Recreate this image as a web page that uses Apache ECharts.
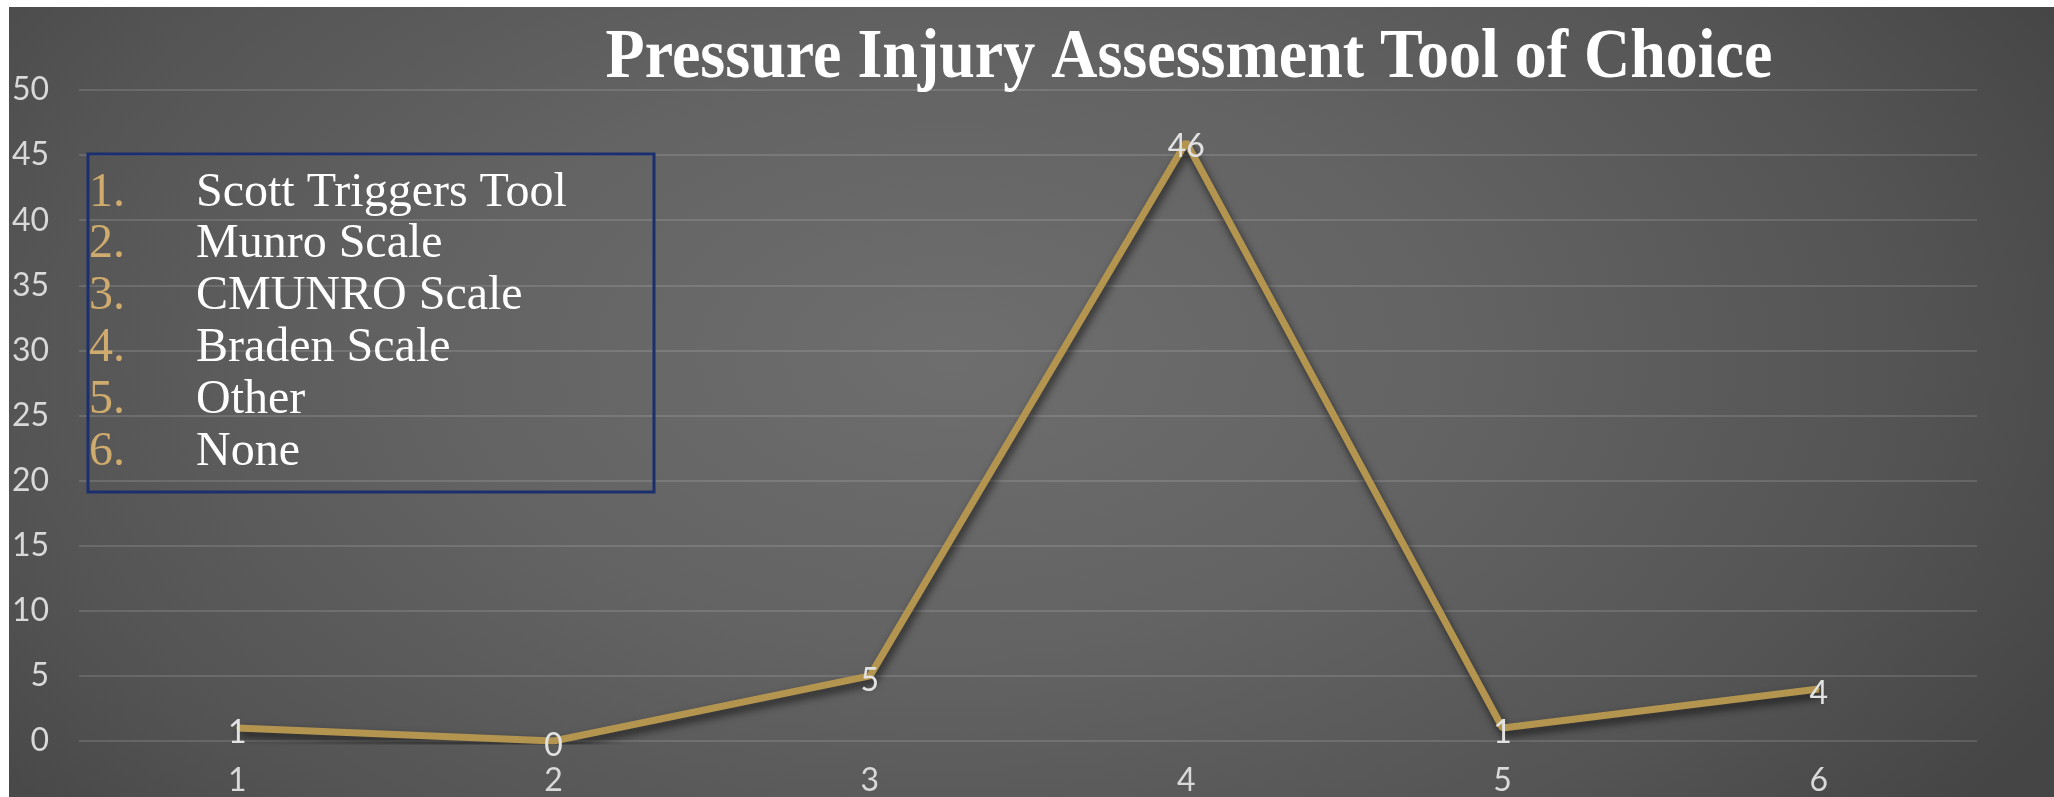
<!DOCTYPE html>
<html>
<head>
<meta charset="utf-8">
<script src="https://cdn.jsdelivr.net/npm/echarts@6/dist/echarts.min.js"></script>
<style>
  html, body { margin: 0; padding: 0; background: #ffffff; width: 2054px; height: 797px; overflow: hidden; }
  #chart {
    position: absolute; left: 9px; top: 7px; width: 2045px; height: 790px;
    background: radial-gradient(ellipse 62% 95% at 46% 44%, #6e6e6e 0%, #636363 40%, #545454 75%, #454545 100%);
  }
</style>
</head>
<body>
<div id="chart"></div>
<script>
// Survey responses: which pressure injury assessment tool is preferred
const chartTitle = 'Pressure Injury Assessment Tool of Choice';
const categories = ['1', '2', '3', '4', '5', '6'];
const responses = [1, 0, 5, 46, 1, 4];
const toolNames = ['Scott Triggers Tool', 'Munro Scale', 'CMUNRO Scale', 'Braden Scale', 'Other', 'None'];
const yTicks = { min: 0, max: 50, interval: 5 };

const chart = echarts.init(document.getElementById('chart'), null, { renderer: 'canvas' });

const sansFont = 'Lato, "DejaVu Sans", sans-serif';
const serifFont = '"Liberation Serif", "Times New Roman", serif';

// Title drawn as a graphic so it can be stretched a little vertically
const graphics = [{
  type: 'text',
  x: 1180, y: 52,
  scaleY: 1.08,
  z: 12,
  style: {
    text: chartTitle, fill: '#ffffff',
    font: 'bold 64px ' + serifFont,
    align: 'center', verticalAlign: 'middle'
  }
}];

// Numbered key listing what each category stands for
const keyLeft = 79, keyTop = 147, keyWidth = 566, keyHeight = 338;
const keyFirstRow = 186, keyRowGap = 51.8;
graphics.push({
  type: 'rect',
  x: keyLeft, y: keyTop,
  shape: { width: keyWidth, height: keyHeight },
  style: { fill: 'none', stroke: '#1b2f6e', lineWidth: 3 },
  z: 10
});
toolNames.forEach((name, i) => {
  const y = keyFirstRow + i * keyRowGap;
  graphics.push({
    type: 'text', x: keyLeft + 1, y: y, z: 11,
    style: { text: (i + 1) + '.', fill: '#cfab6e', font: '48px ' + serifFont, verticalAlign: 'middle', align: 'left' }
  });
  graphics.push({
    type: 'text', x: keyLeft + 108, y: y, z: 11,
    style: { text: name, fill: '#ffffff', font: '48px ' + serifFont, verticalAlign: 'middle', align: 'left' }
  });
});

chart.setOption({
  backgroundColor: 'transparent',
  animation: false,
  grid: { left: 70, right: 77, top: 83, bottom: 56, containLabel: false },
  xAxis: {
    type: 'category',
    data: categories,
    boundaryGap: true,
    axisLine: { show: false },
    axisTick: { show: false },
    axisLabel: { color: '#d9d9d9', fontFamily: sansFont, fontSize: 32, margin: 24 }
  },
  yAxis: {
    type: 'value',
    min: yTicks.min, max: yTicks.max, interval: yTicks.interval,
    axisLine: { show: false },
    axisTick: { show: false },
    axisLabel: { color: '#d9d9d9', fontFamily: sansFont, fontSize: 32, margin: 30 },
    splitLine: { lineStyle: { color: 'rgba(255,255,255,0.17)', width: 1.5 } }
  },
  graphic: graphics,
  series: [{
    type: 'line',
    data: responses,
    symbol: 'circle',
    symbolSize: 2,
    showSymbol: true,
    itemStyle: { color: '#b4954f' },
    lineStyle: {
      color: '#b4954f', width: 7,
      shadowColor: 'rgba(0,0,0,0.65)', shadowBlur: 9, shadowOffsetX: 2, shadowOffsetY: 5
    },
    label: {
      show: true,
      position: 'inside',
      offset: [0, 5],
      color: '#e2e2e2',
      fontFamily: sansFont,
      fontSize: 32
    }
  }]
});
</script>
</body>
</html>
